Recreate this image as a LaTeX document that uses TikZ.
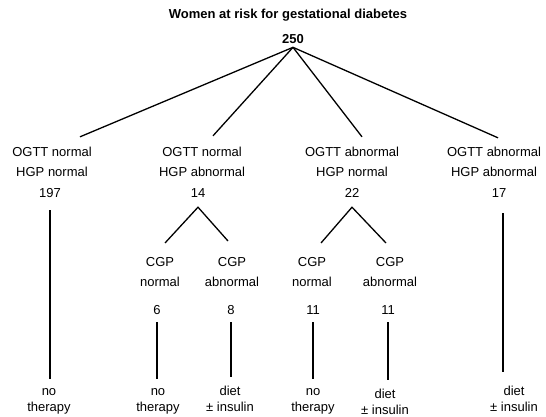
\documentclass[tikz,border=0pt]{standalone}
\usepackage{fontspec}
\setmainfont{Liberation Sans}

\tikzset{
  grp/.style={font=\fontsize{13}{20}\selectfont, align=center, inner sep=0pt},
  num/.style={font=\fontsize{13}{16}\selectfont, anchor=base, inner sep=0pt},
  leaf/.style={font=\fontsize{13}{16}\selectfont, align=center, inner sep=0pt},
  branch/.style={line width=1.3pt}
}

\begin{document}
\begin{tikzpicture}[x=1pt,y=-1pt]
    \useasboundingbox (0,0) rectangle (546,417);

    % Title and total
    \node[num, font=\bfseries\fontsize{13}{16}\selectfont] (title) at (288,19) {Women at risk for gestational diabetes};
    \node[num, font=\bfseries\fontsize{13}{16}\selectfont] (total) at (293,43.5) {250};

    % OGTT / HGP groups
    \node[grp] (g1) at (52,162.3) {OGTT normal\\HGP normal};
    \node[grp] (g2) at (202,162.3) {OGTT normal\\HGP abnormal};
    \node[grp] (g3) at (352,162.3) {OGTT abnormal\\HGP normal};
    \node[grp] (g4) at (494,162.3) {OGTT abnormal\\HGP abnormal};

    \node[num] (n1) at (50,197) {197};
    \node[num] (n2) at (198,197) {14};
    \node[num] (n3) at (352,197) {22};
    \node[num] (n4) at (499,197) {17};

    % CGP subgroups
    \node[grp] (c1) at (160,271.8) {CGP\\normal};
    \node[grp] (c2) at (232,271.8) {CGP\\abnormal};
    \node[grp] (c3) at (312,271.8) {CGP\\normal};
    \node[grp] (c4) at (390,271.8) {CGP\\abnormal};

    \node[num] (m1) at (157,314) {6};
    \node[num] (m2) at (231,314) {8};
    \node[num] (m3) at (313,314) {11};
    \node[num] (m4) at (388,314) {11};

    % Therapy
    \node[leaf] (t1) at (49,401.5) {no\\therapy};
    \node[leaf] (t2) at (158,401.5) {no\\therapy};
    \node[leaf] (t3) at (230,398.8) {diet\\± insulin};
    \node[leaf] (t4) at (313,401.5) {no\\therapy};
    \node[leaf] (t5) at (385,401.5) {diet\\± insulin};
    \node[leaf] (t6) at (514,398.8) {diet\\± insulin};

    % Branches from the total
    \foreach \g/\dx/\dy in {g1/28/10.5, g2/11/11.5, g3/10/10.5, g4/4/9.5}
        \draw[branch] ([yshift=-3.5pt]total.south) -- ([shift={(\dx pt,\dy pt)}]\g.north);

    % Splits by CGP
    \draw[branch] ([shift={(5pt,14pt)}]c1.north) -- ([yshift=-10pt]n2.south) -- ([shift={(-4pt,16pt)}]c2.north);
    \draw[branch] ([shift={(9pt,14pt)}]c3.north) -- ([yshift=-10pt]n3.south) -- ([shift={(-4pt,14pt)}]c4.north);

    % Down to therapy
    \draw[branch, shorten <=13pt, shorten >=9pt] (n1.south) -- (n1.south |- t1.north);
    \draw[branch, shorten <=16pt, shorten >=14pt] ([xshift=4pt]n4.south) -- ([xshift=4pt]n4.south |- t6.north);
    \foreach \m/\t in {m1/t2, m2/t3, m3/t4, m4/t5}
        \draw[branch, shorten <=8pt, shorten >=9pt] (\m.south) -- (\m.south |- \t.north);
\end{tikzpicture}
\end{document}
